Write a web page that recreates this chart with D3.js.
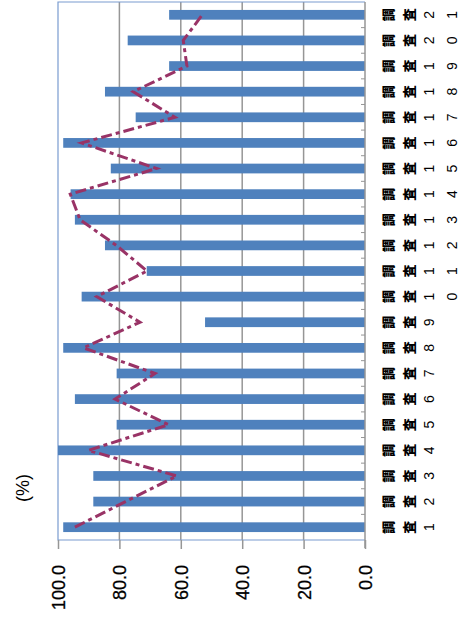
<!DOCTYPE html>
<html><head><meta charset="utf-8">
<script src="https://cdn.jsdelivr.net/npm/d3@7"></script>
<style>
html,body{margin:0;padding:0;background:#fff;}
svg{display:block;}
</style></head>
<body>
<script>
const categories = ["調査1","調査2","調査3","調査4","調査5","調査6","調査7","調査8","調査9","調査10","調査11","調査12","調査13","調査14","調査15","調査16","調査17","調査18","調査19","調査20","調査21"];
const barValues  = [98.3, 88.5, 88.5, 100.0, 80.9, 94.5, 80.9, 98.3, 52.1, 92.3, 71.1, 84.7, 94.5, 95.9, 82.8, 98.3, 74.7, 84.7, 63.8, 77.3, 63.8];
const lineValues = [94.5, 78.0, 61.3, 90.1, 64.0, 81.4, 68.4, 91.7, 73.3, 87.4, 71.0, 81.0, 92.8, 96.0, 67.9, 92.3, 61.9, 75.5, 58.0, 59.2, 53.0];
const valueTicks = [0, 20, 40, 60, 80, 100];
const unitLabel = "(%)";

(function() {
const W = 462, H = 630;
const svg = d3.select("body").append("svg").attr("width", W).attr("height", H);

const pLeft = 58, pRight = 365, pTop = 2, pBottom = 540;
const x = d3.scaleLinear().domain([0, 100]).range([pRight, pLeft]);
const y = d3.scaleBand().domain(categories).range([pBottom, pTop]).paddingInner(0.62).paddingOuter(0.31);

// gridlines
svg.append("g").selectAll("line").data(valueTicks.filter(v => v > 0 && v < 100)).join("line")
  .attr("x1", d => x(d)).attr("x2", d => x(d))
  .attr("y1", pTop).attr("y2", pBottom)
  .attr("stroke", "#969696").attr("stroke-width", 1.5);

// plot frame (left, top, bottom)
svg.append("path")
  .attr("d", `M${pRight},${pTop}H${pLeft}V${pBottom}H${pRight}`)
  .attr("fill", "none").attr("stroke", "#7a9cd0").attr("stroke-width", 1.2);

// bars
svg.append("g").selectAll("rect").data(categories).join("rect")
  .attr("x", (d, i) => x(barValues[i]))
  .attr("width", (d, i) => x(0) - x(barValues[i]))
  .attr("y", d => y(d))
  .attr("height", y.bandwidth())
  .attr("fill", "#4f81bd");

// category axis line at value 0
svg.append("line").attr("x1", x(0)).attr("x2", x(0)).attr("y1", pTop).attr("y2", pBottom + 8)
  .attr("stroke", "#969696").attr("stroke-width", 1.5);

// category tick marks (between categories)
const bounds = categories.map(c => y(c) - (y.step() - y.bandwidth()) / 2).slice(0, -1);
svg.append("g").selectAll("line").data(bounds).join("line")
  .attr("x1", x(0) - 4).attr("x2", x(0))
  .attr("y1", d => d).attr("y2", d => d)
  .attr("stroke", "#969696").attr("stroke-width", 1);

// value axis
const axis = svg.append("g").attr("transform", `translate(0,${pBottom})`)
  .call(d3.axisBottom(x).tickValues(valueTicks).tickSize(9).tickFormat(d3.format(".1f")));
axis.select(".domain").remove();
axis.selectAll(".tick line").attr("stroke", "#969696").attr("stroke-width", 1.5);
axis.selectAll(".tick text")
  .attr("transform", "rotate(-90)")
  .attr("x", -25).attr("y", 0).attr("dy", "0.36em")
  .attr("text-anchor", "end")
  .attr("font-family", "Liberation Sans, Arial, sans-serif")
  .attr("font-size", 18).attr("fill", "#000")
  .attr("stroke", "#000").attr("stroke-width", 0.3);

// line series
const line = d3.line()
  .x((d, i) => x(d))
  .y((d, i) => y(categories[i]) + y.bandwidth() / 2);
svg.append("path").datum(lineValues)
  .attr("d", line)
  .attr("fill", "none").attr("stroke", "#993366").attr("stroke-width", 3)
  .attr("stroke-dasharray", "11,4,4,4");

// category labels (stacked characters, rotated)
const charX = [388, 409, 429, 452];
const lab = svg.append("g").selectAll("g").data(categories).join("g")
  .attr("transform", d => `translate(0,${y(d) + y.bandwidth() / 2})`);
lab.each(function(d) {
  const g = d3.select(this);
  Array.from(d).forEach((ch, k) => {
    const cjk = /[^\x00-\x7f]/.test(ch);
    g.append("text")
      .attr("transform", `translate(${charX[k]},0) rotate(-90)`)
      .attr("text-anchor", "middle").attr("dy", "0.36em")
      .attr("font-family", cjk ? "Noto Sans CJK JP" : "Liberation Sans, Arial, sans-serif")
      .attr("font-size", cjk ? 13 : 14)
      .attr("font-weight", cjk ? 900 : 400)
      .attr("fill", "#000")
      .text(ch);
  });
});

// unit label
svg.append("text")
  .attr("transform", "translate(23,488) rotate(-90)")
  .attr("text-anchor", "middle").attr("dy", "0.36em")
  .attr("font-family", "Liberation Sans, Arial, sans-serif")
  .attr("font-size", 18).attr("fill", "#000")
  .text(unitLabel);
})();
</script>
</body></html>
